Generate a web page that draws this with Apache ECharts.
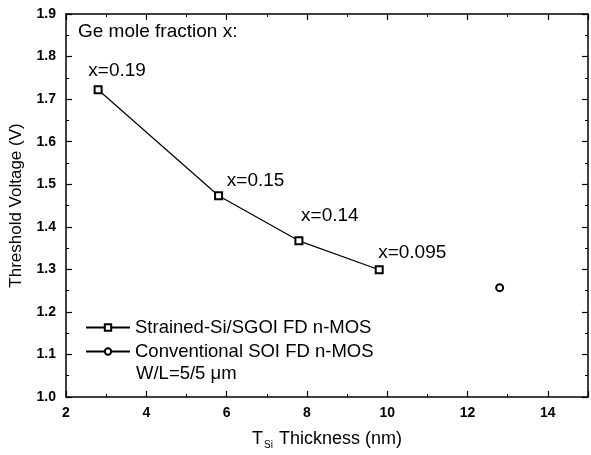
<!DOCTYPE html>
<html>
<head>
<meta charset="utf-8">
<script src="https://cdn.jsdelivr.net/npm/echarts@6/dist/echarts.min.js"></script>
<style>
html, body { margin: 0; padding: 0; background: #fff; }
#chart { width: 591px; height: 455px; }
</style>
</head>
<body>
<div id="chart"></div>
<script>
// data
var sgoiThickness = [2.8, 5.8, 7.8, 9.8];
var sgoiVth = [1.722, 1.473, 1.367, 1.299];
var sgoiLabels = ['x=0.19', 'x=0.15', 'x=0.14', 'x=0.095'];
var soiThickness = [12.8];
var soiVth = [1.257];
var seriesNames = ['Strained-Si/SGOI FD n-MOS', 'Conventional SOI FD n-MOS'];

var fontFam = 'Liberation Sans, Arial, sans-serif';
var labelOffsets = [[19, 0], [37, 4], [31, -6], [33, 2]];

var myChart = echarts.init(document.getElementById('chart'));

var sgoiData = sgoiThickness.map(function (t, i) {
	return {
		value: [t, sgoiVth[i]],
		label: { formatter: sgoiLabels[i], offset: labelOffsets[i] }
	};
});
var soiData = soiThickness.map(function (t, i) {
	return [t, soiVth[i]];
});

// plain axis used for all four sides of the frame
function boxAxis(pos, isX) {
	return {
		type: 'value',
		position: pos,
		min: isX ? 2 : 1.0,
		max: isX ? 15 : 1.9,
		interval: isX ? 2 : 0.1,
		axisLine: { show: true, onZero: false, lineStyle: { color: '#000', width: 1.5 } },
		axisTick: { show: true, inside: true, length: 6, lineStyle: { color: '#000', width: 1.2 } },
		minorTick: { show: true, splitNumber: 2, length: 3, lineStyle: { color: '#000', width: 1 } },
		splitLine: { show: false },
		axisLabel: { show: false }
	};
}

var xBottom = boxAxis('bottom', true);
xBottom.axisLabel = {
	show: true, color: '#000', fontSize: 14, fontWeight: 'bold', fontFamily: fontFam,
	margin: 9, showMaxLabel: false
};
xBottom.name = '{t|T}{s|Si}{t| Thickness (nm)}';
xBottom.nameLocation = 'middle';
xBottom.nameGap = 31;
xBottom.nameTextStyle = {
	rich: {
		t: { fontSize: 18, color: '#000', fontFamily: fontFam },
		s: { fontSize: 10, color: '#000', fontFamily: fontFam, verticalAlign: 'bottom', padding: [12, 1, 0, 1] }
	}
};

var yLeft = boxAxis('left', false);
yLeft.axisLabel = {
	show: true, color: '#000', fontSize: 14, fontWeight: 'bold', fontFamily: fontFam,
	margin: 10, formatter: function (v) { return v.toFixed(1); }
};
yLeft.name = 'Threshold Voltage (V)';
yLeft.nameLocation = 'middle';
yLeft.nameGap = 41;
yLeft.nameTextStyle = { fontSize: 17, color: '#000', fontFamily: fontFam };

var option = {
	backgroundColor: '#fff',
	animation: false,
	title: {
		text: 'Ge mole fraction x:',
		left: 73, top: 17,
		textStyle: { fontSize: 19, fontWeight: 'normal', color: '#000', fontFamily: fontFam }
	},
	legend: {
		orient: 'vertical',
		left: 80, top: 313,
		itemWidth: 44, itemHeight: 8, itemGap: 5,
		textStyle: { fontSize: 18.5, color: '#000', fontFamily: fontFam },
		data: seriesNames
	},
	graphic: [{
		type: 'text',
		left: 136, top: 364,
		style: { text: 'W/L=5/5 \u03bcm', fill: '#000', font: '18.5px ' + fontFam }
	}],
	grid: { left: 65, right: 3, top: 14, bottom: 58 },
	xAxis: [xBottom, boxAxis('top', true)],
	yAxis: [yLeft, boxAxis('right', false)],
	series: [
		{
			name: seriesNames[0],
			type: 'line',
			symbol: 'emptyRect',
			symbolSize: 7,
			itemStyle: { color: '#000', borderWidth: 1.2 },
			lineStyle: { color: '#000', width: 1.2 },
			label: { show: true, position: 'top', color: '#000', fontSize: 19, fontFamily: fontFam },
			data: sgoiData
		},
		{
			name: seriesNames[1],
			type: 'line',
			symbol: 'emptyCircle',
			symbolSize: 7,
			itemStyle: { color: '#000', borderWidth: 1.2 },
			lineStyle: { color: '#000', width: 1.2 },
			data: soiData
		}
	]
};
myChart.setOption(option);
</script>
</body>
</html>
